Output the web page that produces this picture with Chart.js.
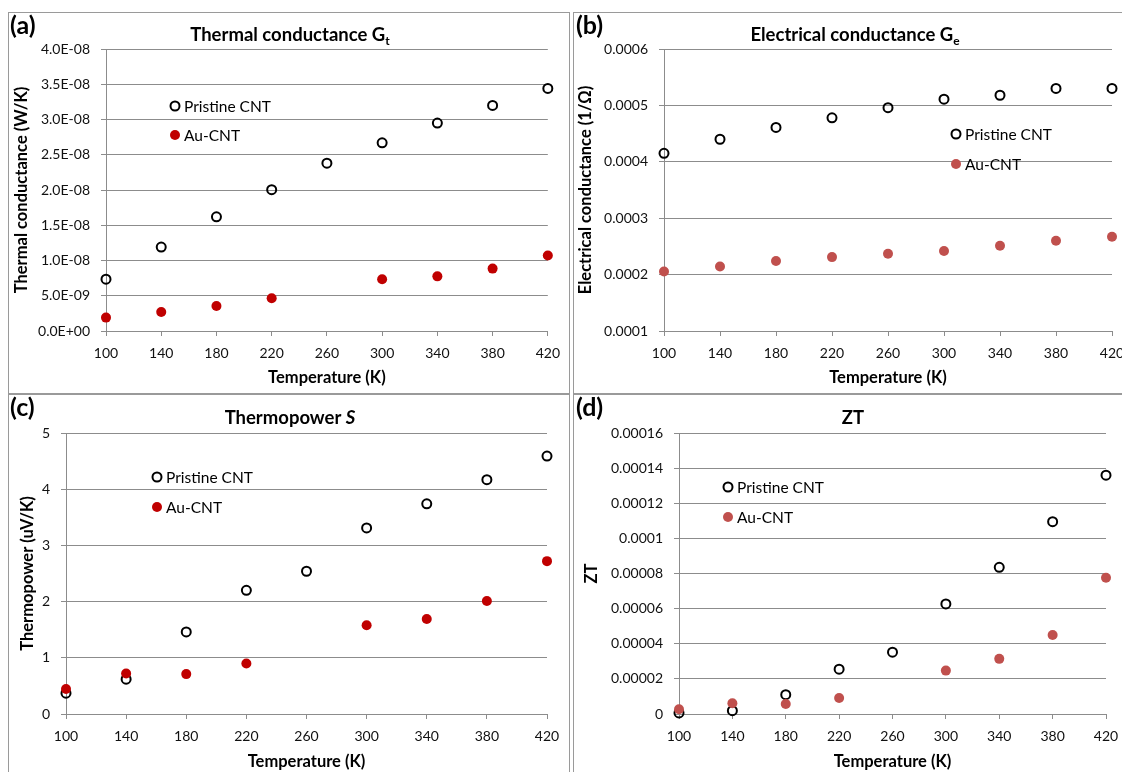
<!DOCTYPE html>
<html lang="en">
<head>
<meta charset="UTF-8">
<title>Pristine vs Au-CNT transport</title>
<script src="https://cdn.jsdelivr.net/npm/chart.js@4.4.0/dist/chart.umd.min.js"></script>
<style>
    body { margin: 0; background: #fff; }
    #page {
        position: relative;
        width: 1122px;
        height: 772px;
        overflow: hidden;
        background: #fff;
        font-family: Lato, sans-serif;
    }
    .panel {
        position: absolute;
        width: 560px;
        height: 380px;
        border: 1px solid #9a9a9a;
    }
    #pa { left: 8px; top: 12px; }
    #pb { left: 573px; top: 12px; }
    #pc { left: 8px; top: 394px; }
    #pd { left: 573px; top: 394px; }
</style>
</head>
<body>
<div id="page">
    <div class="panel" id="pa"><canvas id="chartA"></canvas></div>
    <div class="panel" id="pb"><canvas id="chartB"></canvas></div>
    <div class="panel" id="pc"><canvas id="chartC"></canvas></div>
    <div class="panel" id="pd"><canvas id="chartD"></canvas></div>
</div>
<script>
// temperatures (K) and x tick labels
const temps = [100, 140, 180, 220, 260, 300, 340, 380, 420];
const tempTicks = [100, 140, 180, 220, 260, 300, 340, 380, 420];

// (a) thermal conductance, W/K
const gtPristine = [7.35e-9, 1.19e-8, 1.62e-8, 2.005e-8, 2.38e-8, 2.67e-8, 2.95e-8, 3.20e-8, 3.44e-8];
const gtAu = [1.9e-9, 2.7e-9, 3.55e-9, 4.65e-9, null, 7.35e-9, 7.75e-9, 8.85e-9, 1.07e-8];
const gtTicks = [0, 5e-9, 1e-8, 1.5e-8, 2e-8, 2.5e-8, 3e-8, 3.5e-8, 4e-8];

// (b) electrical conductance, 1/Ohm
const gePristine = [0.000415, 0.000440, 0.000461, 0.000478, 0.000496, 0.000511, 0.000518, 0.000530, 0.000530];
const geAu = [0.0002055, 0.0002145, 0.000224, 0.000231, 0.000237, 0.000242, 0.000251, 0.000260, 0.000267];
const geTicks = [0.0001, 0.0002, 0.0003, 0.0004, 0.0005, 0.0006];

// (c) thermopower, uV/K
const sPristine = [0.37, 0.62, 1.46, 2.20, 2.54, 3.31, 3.74, 4.17, 4.59];
const sAu = [0.445, 0.72, 0.71, 0.90, null, 1.58, 1.69, 2.01, 2.72];
const sTicks = [0, 1, 2, 3, 4, 5];

// (d) ZT
const ztPristine = [0.6e-6, 1.9e-6, 1.10e-5, 2.55e-5, 3.52e-5, 6.27e-5, 8.35e-5, 1.095e-4, 1.36e-4];
const ztAu = [2.7e-6, 6.1e-6, 5.7e-6, 9.1e-6, null, 2.47e-5, 3.14e-5, 4.5e-5, 7.76e-5];
const ztTicks = [0, 0.00002, 0.00004, 0.00006, 0.00008, 0.0001, 0.00012, 0.00014, 0.00016];

const FONT = 'Lato, sans-serif';
const GRID = '#8c8c8c';
const AXIS_TITLE = 16.5;

function sci(v) {
    // Excel style 4.0E-08
    const parts = v.toExponential(1).toUpperCase().split('E');
    const e = parseInt(parts[1], 10);
    return parts[0] + 'E' + (e < 0 ? '-' : '+') + String(Math.abs(e)).padStart(2, '0');
}

function points(vals) {
    return temps.map((t, i) => ({ x: t, y: vals[i] })).filter(p => p.y !== null);
}

// draws panel letter, title (with sub/italic parts) and the in-plot legend
const overlay = {
    id: 'overlay',
    afterDraw(chart, args, o) {
        const ctx = chart.ctx;
        ctx.save();
        ctx.fillStyle = '#000';
        ctx.textBaseline = 'middle';
        ctx.textAlign = 'left';
        ctx.font = 'bold 25px ' + FONT;
        ctx.fillText(o.letter, o.letterX, o.letterY);

        let w = 0;
        o.title.forEach(p => { ctx.font = p.f; w += ctx.measureText(p.t).width; });
        let x = o.titleX - w / 2;
        o.title.forEach(p => {
            ctx.font = p.f;
            ctx.fillText(p.t, x, o.titleY + (p.dy || 0));
            x += ctx.measureText(p.t).width;
        });

        ctx.font = '15.5px ' + FONT;
        ctx.lineWidth = 2;
        ctx.strokeStyle = '#000';
        ctx.beginPath();
        ctx.arc(o.legX, o.legY, 4.5, 0, Math.PI * 2);
        ctx.stroke();
        ctx.fillText('Pristine CNT', o.legX + 9, o.legY + 1);
        ctx.fillStyle = o.auColor;
        ctx.beginPath();
        ctx.arc(o.legX, o.legY + o.legGap, 5, 0, Math.PI * 2);
        ctx.fill();
        ctx.fillStyle = '#000';
        ctx.fillText('Au-CNT', o.legX + 9, o.legY + o.legGap + 1);
        ctx.restore();
    }
};

function makeChart(id, c) {
    new Chart(document.getElementById(id), {
        type: 'scatter',
        data: {
            datasets: [
                {
                    label: 'Au-CNT',
                    data: points(c.au),
                    order: 0,
                    pointRadius: 5,
                    pointHoverRadius: 5,
                    pointBorderWidth: 0,
                    backgroundColor: c.auColor,
                    borderColor: c.auColor,
                    clip: false
                },
                {
                    label: 'Pristine CNT',
                    data: points(c.pristine),
                    order: 1,
                    pointRadius: 4.5,
                    pointHoverRadius: 4.5,
                    pointBorderWidth: 2,
                    backgroundColor: 'rgba(0,0,0,0)',
                    borderColor: '#000',
                    clip: false
                }
            ]
        },
        options: {
            responsive: true,
            maintainAspectRatio: false,
            animation: false,
            layout: { padding: { left: 0, top: c.top, right: c.right, bottom: 0 } },
            plugins: {
                legend: { display: false },
                tooltip: { enabled: false },
                overlay: c.overlay
            },
            scales: {
                x: {
                    type: 'linear',
                    min: tempTicks[0],
                    max: tempTicks[tempTicks.length - 1],
                    afterBuildTicks: s => { s.ticks = tempTicks.map(v => ({ value: v })); },
                    afterFit: s => { s.height = c.xh; },
                    grid: { drawOnChartArea: false, drawTicks: true, tickLength: 5, color: GRID },
                    border: { color: GRID, width: 1 },
                    ticks: { color: '#111', padding: 9, font: { family: FONT, size: 14 }, maxRotation: 0 },
                    title: {
                        display: true,
                        text: 'Temperature (K)',
                        color: '#000',
                        font: { family: FONT, size: AXIS_TITLE, weight: 'bold' },
                        padding: { top: 0, bottom: c.xTitlePad }
                    }
                },
                y: {
                    min: c.yTicks[0],
                    max: c.yTicks[c.yTicks.length - 1],
                    afterBuildTicks: s => { s.ticks = c.yTicks.map(v => ({ value: v })); },
                    afterFit: s => { s.width = c.yw; },
                    grid: { color: GRID, tickLength: 5, lineWidth: 1 },
                    border: { color: GRID, width: 1 },
                    ticks: { color: '#111', padding: 11, font: { family: FONT, size: 14 }, callback: c.fmt },
                    title: {
                        display: true,
                        text: c.yTitle,
                        color: '#000',
                        font: { family: FONT, size: AXIS_TITLE, weight: 'bold' },
                        padding: { top: c.yTitlePad, bottom: 0 }
                    }
                }
            }
        },
        plugins: [overlay]
    });
}

makeChart('chartA', {
    pristine: gtPristine, au: gtAu, auColor: '#c00000', yTicks: gtTicks,
    fmt: v => sci(v), yTitle: 'Thermal conductance (W/K)',
    yw: 97, top: 36, right: 21, xh: 62, xTitlePad: 5, yTitlePad: 3,
    overlay: {
        letter: '(a)', letterX: 1, letterY: 13,
        title: [
            { t: 'Thermal conductance G', f: 'bold 18.5px ' + FONT },
            { t: 't', f: 'bold 12px ' + FONT, dy: 6 }
        ],
        titleX: 281, titleY: 22,
        legX: 166, legY: 93, legGap: 29, auColor: '#c00000'
    }
});

makeChart('chartB', {
    pristine: gePristine, au: geAu, auColor: '#c0504d', yTicks: geTicks,
    fmt: v => v.toFixed(4), yTitle: 'Electrical conductance (1/\u03A9)',
    yw: 90, top: 36, right: 22, xh: 62, xTitlePad: 5, yTitlePad: 2,
    overlay: {
        letter: '(b)', letterX: 2, letterY: 13,
        title: [
            { t: 'Electrical conductance G', f: 'bold 18.5px ' + FONT },
            { t: 'e', f: 'bold 12px ' + FONT, dy: 6 }
        ],
        titleX: 281, titleY: 22,
        legX: 382, legY: 121, legGap: 30, auColor: '#c0504d'
    }
});

makeChart('chartC', {
    pristine: sPristine, au: sAu, auColor: '#c00000', yTicks: sTicks,
    fmt: v => String(v), yTitle: 'Thermopower (uV/K)',
    yw: 57, top: 38, right: 22, xh: 61, xTitlePad: 3, yTitlePad: 9,
    overlay: {
        letter: '(c)', letterX: 1, letterY: 13,
        title: [
            { t: 'Thermopower ', f: 'bold 18.5px ' + FONT },
            { t: 'S', f: 'italic bold 18.5px ' + FONT }
        ],
        titleX: 281, titleY: 23,
        legX: 148, legY: 82, legGap: 30, auColor: '#c00000'
    }
});

makeChart('chartD', {
    pristine: ztPristine, au: ztAu, auColor: '#c0504d', yTicks: ztTicks,
    fmt: v => String(+v.toFixed(5)), yTitle: 'ZT',
    yw: 105, top: 38, right: 28, xh: 61, xTitlePad: 3, yTitlePad: 7.5,
    overlay: {
        letter: '(d)', letterX: 2, letterY: 13,
        title: [
            { t: 'ZT', f: 'bold 18.5px ' + FONT }
        ],
        titleX: 279, titleY: 23,
        legX: 154, legY: 92, legGap: 30, auColor: '#c0504d'
    }
});
</script>
</body>
</html>
